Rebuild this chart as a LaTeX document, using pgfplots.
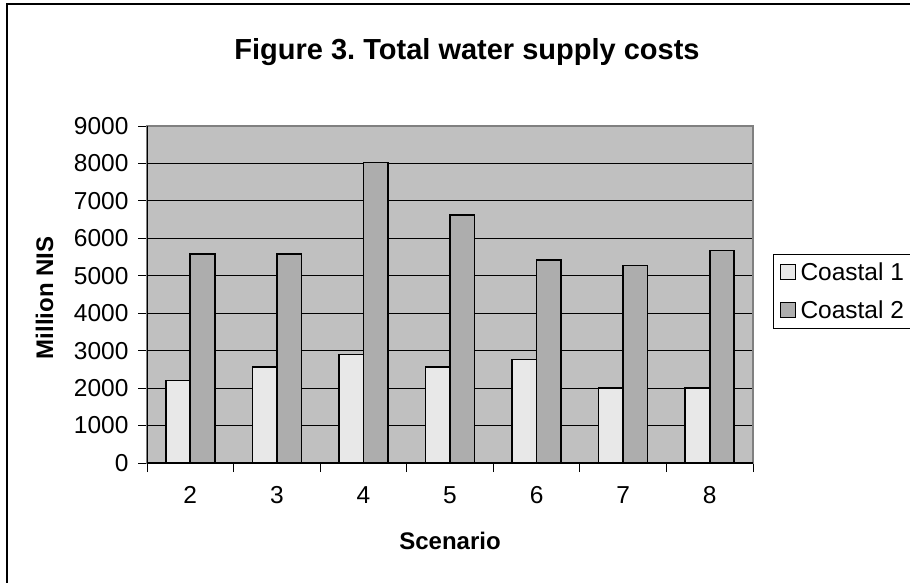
\documentclass[border=0pt]{standalone}
\usepackage{fontspec}
\setmainfont{Liberation Sans}
\usepackage{pgfplots}
\pgfplotsset{compat=1.18}
\frenchspacing

\definecolor{plotbg}{HTML}{C0C0C0}
\definecolor{coastA}{HTML}{E8E8E8}
\definecolor{coastB}{HTML}{ADADAD}
\definecolor{frameg}{HTML}{808080}

\begin{document}
\begin{tikzpicture}[x=1pt,y=1pt]
\useasboundingbox (0,0) rectangle (910,582);
% outer chart frame (right and bottom edge fall outside the picture)
\draw[line width=2.5pt] (7,-10) -- (7,578) -- (930,578);

\begin{axis}[
    at={(147pt,119pt)}, anchor=south west,
    scale only axis,
    width=606pt, height=337pt,
    xmin=1.5, xmax=8.5,
    ymin=0, ymax=9000,
    ytick={0,1000,...,9000},
    xtick={1.5,2.5,...,8.5},
    xticklabels={2,3,4,5,6,7,8,{}},
    xticklabel style={xshift=43.29pt, yshift=-11pt},
    yticklabel style={xshift=-6pt},
    tick align=outside,
    tick pos=left,
    major tick length=9pt,
    tick style={black, line width=1pt},
    ymajorgrids,
    grid style={black, line width=1pt},
    axis background/.style={fill=plotbg},
    axis line style={frameg, line width=1.2pt},
    /pgf/number format/assume math mode=true,
    scaled y ticks=false,
    yticklabel={\pgfmathprintnumber[fixed,1000 sep={}]{\tick}},
    ticklabel style={font=\fontsize{24.5}{28}\selectfont},
    xlabel={\textbf{Scenario}},
    ylabel={\textbf{Million NIS}},
    label style={font=\fontsize{24}{28}\selectfont},
    xlabel style={at={(axis description cs:0.5,-0.258)}, anchor=base},
    ylabel style={at={(axis description cs:-0.155,0.49)}, anchor=base},
    ybar,
    bar width=0.283,
    legend style={
        at={(axis description cs:1.033,0.620)}, anchor=north west,
        draw=black, line width=1pt,
        font=\fontsize{24.5}{28}\selectfont,
        row sep=15pt, inner xsep=6pt, inner ysep=6pt,
        cells={anchor=west},
        nodes={inner xsep=5pt},
    },
    legend image code/.code={\draw[#1, line width=1pt] (0pt,-7pt) rectangle (15pt,8pt);},
]
\addplot[fill=coastA, draw=black, line width=1.6pt, bar shift=-0.1415] coordinates {
    (2, 2200) (3, 2560) (4, 2900) (5, 2560) (6, 2760) (7, 2000) (8, 2000)
};
\addlegendentry{Coastal 1}
\addplot[fill=coastB, draw=black, line width=1.6pt, bar shift=0.1415] coordinates {
    (2, 5580) (3, 5580) (4, 8030) (5, 6620) (6, 5420) (7, 5270) (8, 5680)
};
\addlegendentry{Coastal 2}
% plot area: left and bottom edges are black
\draw[black, line width=1.2pt] (rel axis cs:0,1) -- (rel axis cs:0,0) -- (rel axis cs:1,0);
\end{axis}

\node[font=\fontsize{29}{33}\selectfont\bfseries, anchor=base] at (467,522) {Figure 3. Total water supply costs};
\end{tikzpicture}
\end{document}
